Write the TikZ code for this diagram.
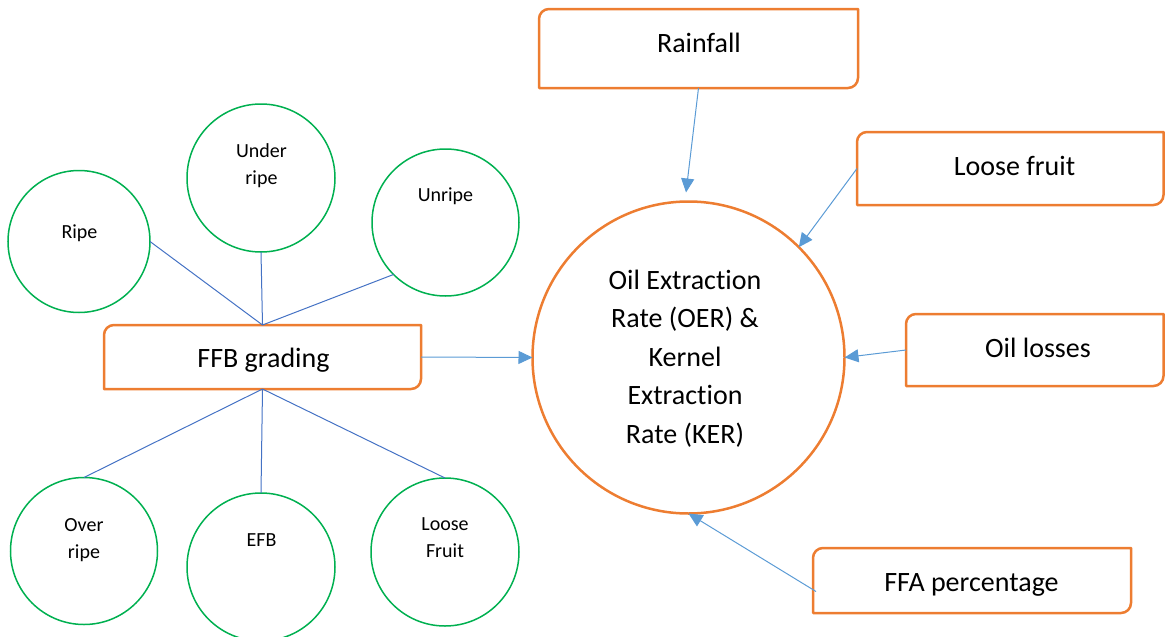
\documentclass[tikz,border=0pt]{standalone}
\usepackage{fontspec}
\setmainfont{Carlito}[Ligatures={NoCommon,NoRare,NoDiscretionary}]
\usetikzlibrary{arrows.meta}

\definecolor{boxorange}{HTML}{ED7D31}
\definecolor{ringgreen}{HTML}{00B050}
\definecolor{linkblue}{HTML}{4472C4}
\definecolor{arrowblue}{HTML}{5B9BD5}

% outline of a factor box: rounded top-left and bottom-right corners only
\newcommand\slantbox[1]{%
  \draw[boxline] ([yshift=-10pt]#1.north west)
    arc[start angle=180,end angle=90,radius=10pt] -- (#1.north east)
    -- ([yshift=10pt]#1.south east)
    arc[start angle=0,end angle=-90,radius=10pt] -- (#1.south west) -- cycle;}

\tikzset{
  boxline/.style={draw=boxorange,line width=2.5pt,line join=round},
  factorbox/.style={rectangle,inner sep=0pt,outer sep=0pt},
  boxtext/.style={anchor=base,inner sep=0pt,font=\fontsize{28}{34}\selectfont},
  grade/.style={circle,draw=ringgreen,line width=1.5pt,inner sep=0pt,outer sep=0pt},
  gradetext/.style={inner sep=0pt,align=center,font=\fontsize{20}{27}\selectfont},
  hub/.style={circle,draw=boxorange,line width=2.5pt,minimum size=312pt,inner sep=0pt,
    outer sep=0pt},
  hubtext/.style={inner sep=0pt,align=center,font=\fontsize{28}{38.5}\selectfont},
  link/.style={draw=linkblue,line width=1pt},
  feed/.style={draw=arrowblue,line width=1pt,-{Triangle[length=14pt,width=13pt]}}
}

\begin{document}
\begin{tikzpicture}[x=1pt,y=1pt]
\path[use as bounding box] (0,0) rectangle (1165,-637);

% central outcome
\node[hub] (oer) at (688.5,-357.5) {};
\node[hubtext] (oer-t) at (685,-358.5) {Oil Extraction\\Rate (OER) \&\\Kernel\\Extraction\\Rate (KER)};

% factor boxes
\node[factorbox,minimum width=319pt,minimum height=79pt] (rain) at (698.5,-48.5) {};
\node[factorbox,minimum width=306.5pt,minimum height=73pt] (loose) at (1010.25,-168.5) {};
\node[factorbox,minimum width=317pt,minimum height=64pt] (ffb) at (262.5,-357) {};
\node[factorbox,minimum width=257.5pt,minimum height=72pt] (oil) at (1034.75,-350) {};
\node[factorbox,minimum width=318pt,minimum height=65pt] (ffa) at (972,-580.5) {};
\slantbox{rain}
\slantbox{loose}
\slantbox{ffb}
\slantbox{oil}
\slantbox{ffa}

\node[boxtext] (rain-t) at (699,-52) {Rainfall};
\node[boxtext] (loose-t) at (1014.5,-175) {Loose fruit};
\node[boxtext] (ffb-t) at (263.5,-367) {FFB grading};
\node[boxtext] (oil-t) at (1038,-357) {Oil losses};
\node[boxtext] (ffa-t) at (971.5,-591) {FFA percentage};

% bunch grades
\node[grade,minimum size=142pt] (ripe) at (79,-241.5) {};
\node[grade,minimum size=148pt] (under) at (261,-178) {};
\node[grade,minimum size=147pt] (unripe) at (445.5,-222.5) {};
\node[grade,minimum size=147pt] (over) at (84,-551) {};
\node[grade,minimum size=148pt] (efb) at (261,-567) {};
\node[grade,minimum size=148pt] (loosef) at (445,-552) {};

\node[gradetext,anchor=base] (ripe-t) at (79.5,-238) {Ripe};
\node[gradetext] (under-t) at (261.5,-166) {Under\\ripe};
\node[gradetext,anchor=base] (unripe-t) at (445.5,-201) {Unripe};
\node[gradetext] (over-t) at (84,-540.5) {Over\\ripe};
\node[gradetext,anchor=base] (efb-t) at (261.5,-546) {EFB};
\node[gradetext] (loosef-t) at (445,-538) {Loose\\Fruit};

% grading links
\draw[link] (ripe.east) -- (ffb.north);
\draw[link] (under.south) -- (ffb.north);
\draw[link] (unripe.225) -- (ffb.north);
\draw[link] (ffb.south) -- (over.north);
\draw[link] (ffb.south) -- (efb.north);
\draw[link] (ffb.south) -- (loosef.north);

% influences on extraction rates
\draw[feed] (rain.south) -- ([xshift=-2.5pt,yshift=9pt]oer.north);
\draw[feed] (loose.west) -- (oer.45);
\draw[feed] (oil.west) -- (oer.east);
\draw[feed] (ffb.east) -- (oer.west);
\draw[feed] ([xshift=3pt,yshift=-11pt]ffa.west) -- (oer.south);
\end{tikzpicture}
\end{document}
